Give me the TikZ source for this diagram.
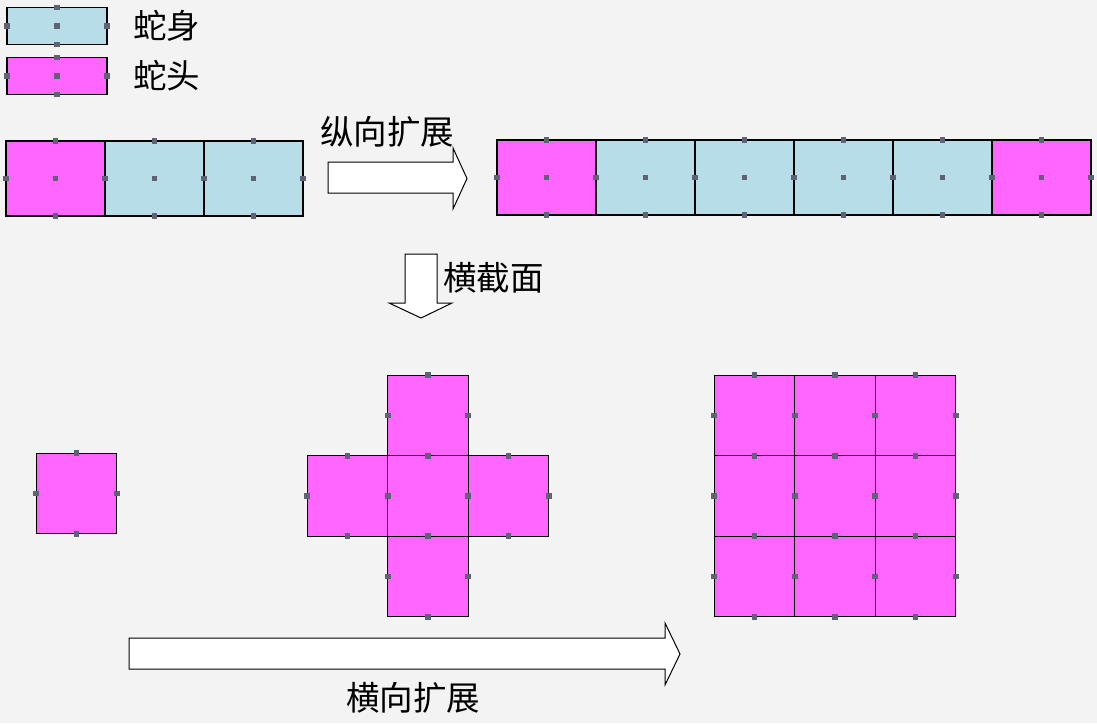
\documentclass[tikz,border=0pt]{standalone}
\usepackage{fontspec}
\newfontfamily\cjk{Noto Sans CJK SC}
\usetikzlibrary{positioning}
\definecolor{bodyblue}{RGB}{183,221,232}
\definecolor{headpink}{RGB}{255,102,255}
\definecolor{dotgray}{RGB}{95,97,117}
\definecolor{bggray}{RGB}{243,243,243}

\begin{document}
\begin{tikzpicture}[
    x=1pt, y=-1pt,
    cell/.style={draw=black, line width=1.2pt, outer sep=0pt, inner sep=0pt},
    snakebody/.style={cell, fill=bodyblue},
    snakehead/.style={cell, fill=headpink},
    bar/.style={minimum width=99pt, minimum height=75pt},
    square/.style={minimum size=80.5pt},
    blockarrow/.style={draw=black, fill=white, line width=1pt, line join=miter},
    lbl/.style={font=\cjk\fontsize{33.5}{38}\selectfont, inner sep=0pt},
    dot/.style={fill=dotgray}
]
    \fill[bggray] (0,0) rectangle (1097,723);
    \useasboundingbox (0,0) rectangle (1097,723);

    % legend
    \node[snakebody, minimum width=100pt, minimum height=37pt] (legbody) at (57,26) {};
    \node[snakehead, minimum width=100pt, minimum height=37pt] (leghead) at (57,76) {};
    \node[lbl, anchor=west] (legbodytxt) at (133,26) {蛇身};
    \node[lbl, anchor=west] (legheadtxt) at (133,76) {蛇头};

    % short snake
    \node[snakehead, bar] (s1) at (55.5,178.5) {};
    \node[snakebody, bar, right=0pt of s1] (s2) {};
    \node[snakebody, bar, right=0pt of s2] (s3) {};

    % long snake
    \node[snakehead, bar] (l1) at (546.5,177.5) {};
    \node[snakebody, bar, right=0pt of l1] (l2) {};
    \node[snakebody, bar, right=0pt of l2] (l3) {};
    \node[snakebody, bar, right=0pt of l3] (l4) {};
    \node[snakebody, bar, right=0pt of l4] (l5) {};
    \node[snakehead, bar, right=0pt of l5] (l6) {};

    % arrows
    \draw[blockarrow] (328,162) -- (453,162) -- (453,148) -- (467,178.5) -- (453,209)
        -- (453,193) -- (328,193) -- cycle;
    \node[lbl] (vext) at (387,132) {纵向扩展};

    \draw[blockarrow] (405,254) -- (437,254) -- (437,303) -- (452,303) -- (421,318)
        -- (389,303) -- (405,303) -- cycle;
    \node[lbl, anchor=west] (section) at (443,278) {横截面};

    % cross sections
    \node[snakehead, square] (c0) at (76.5,493.5) {};

    \node[snakehead, square] (p0) at (428,496) {};
    \node[snakehead, square, above=0pt of p0] (pn) {};
    \node[snakehead, square, below=0pt of p0] (ps) {};
    \node[snakehead, square, left=0pt of p0] (pw) {};
    \node[snakehead, square, right=0pt of p0] (pe) {};

    \foreach \i in {1,2,3}
        \foreach \j in {1,2,3}
            \node[snakehead, square] (g\i\j) at ({754.5+80.5*(\j-1)},{415.5+80.5*(\i-1)}) {};

    \draw[blockarrow] (129,638) -- (665,638) -- (665,623) -- (680,654) -- (665,685)
        -- (665,669) -- (129,669) -- cycle;
    \node[lbl] (hext) at (413,698) {横向扩展};

    % connection points
    \foreach \n in {legbody,leghead,s1,s2,s3,l1,l2,l3,l4,l5,l6}
        \foreach \a in {north,south,east,west,center}
            \fill[dot] (\n.\a) ++(-2.8,-2.8) rectangle ++(5.6,5.6);
    \foreach \n in {c0,p0,pn,ps,pw,pe,g11,g12,g13,g21,g22,g23,g31,g32,g33}
        \foreach \a in {north,south,east,west}
            \fill[dot] (\n.\a) ++(-2.8,-2.8) rectangle ++(5.6,5.6);
\end{tikzpicture}
\end{document}
